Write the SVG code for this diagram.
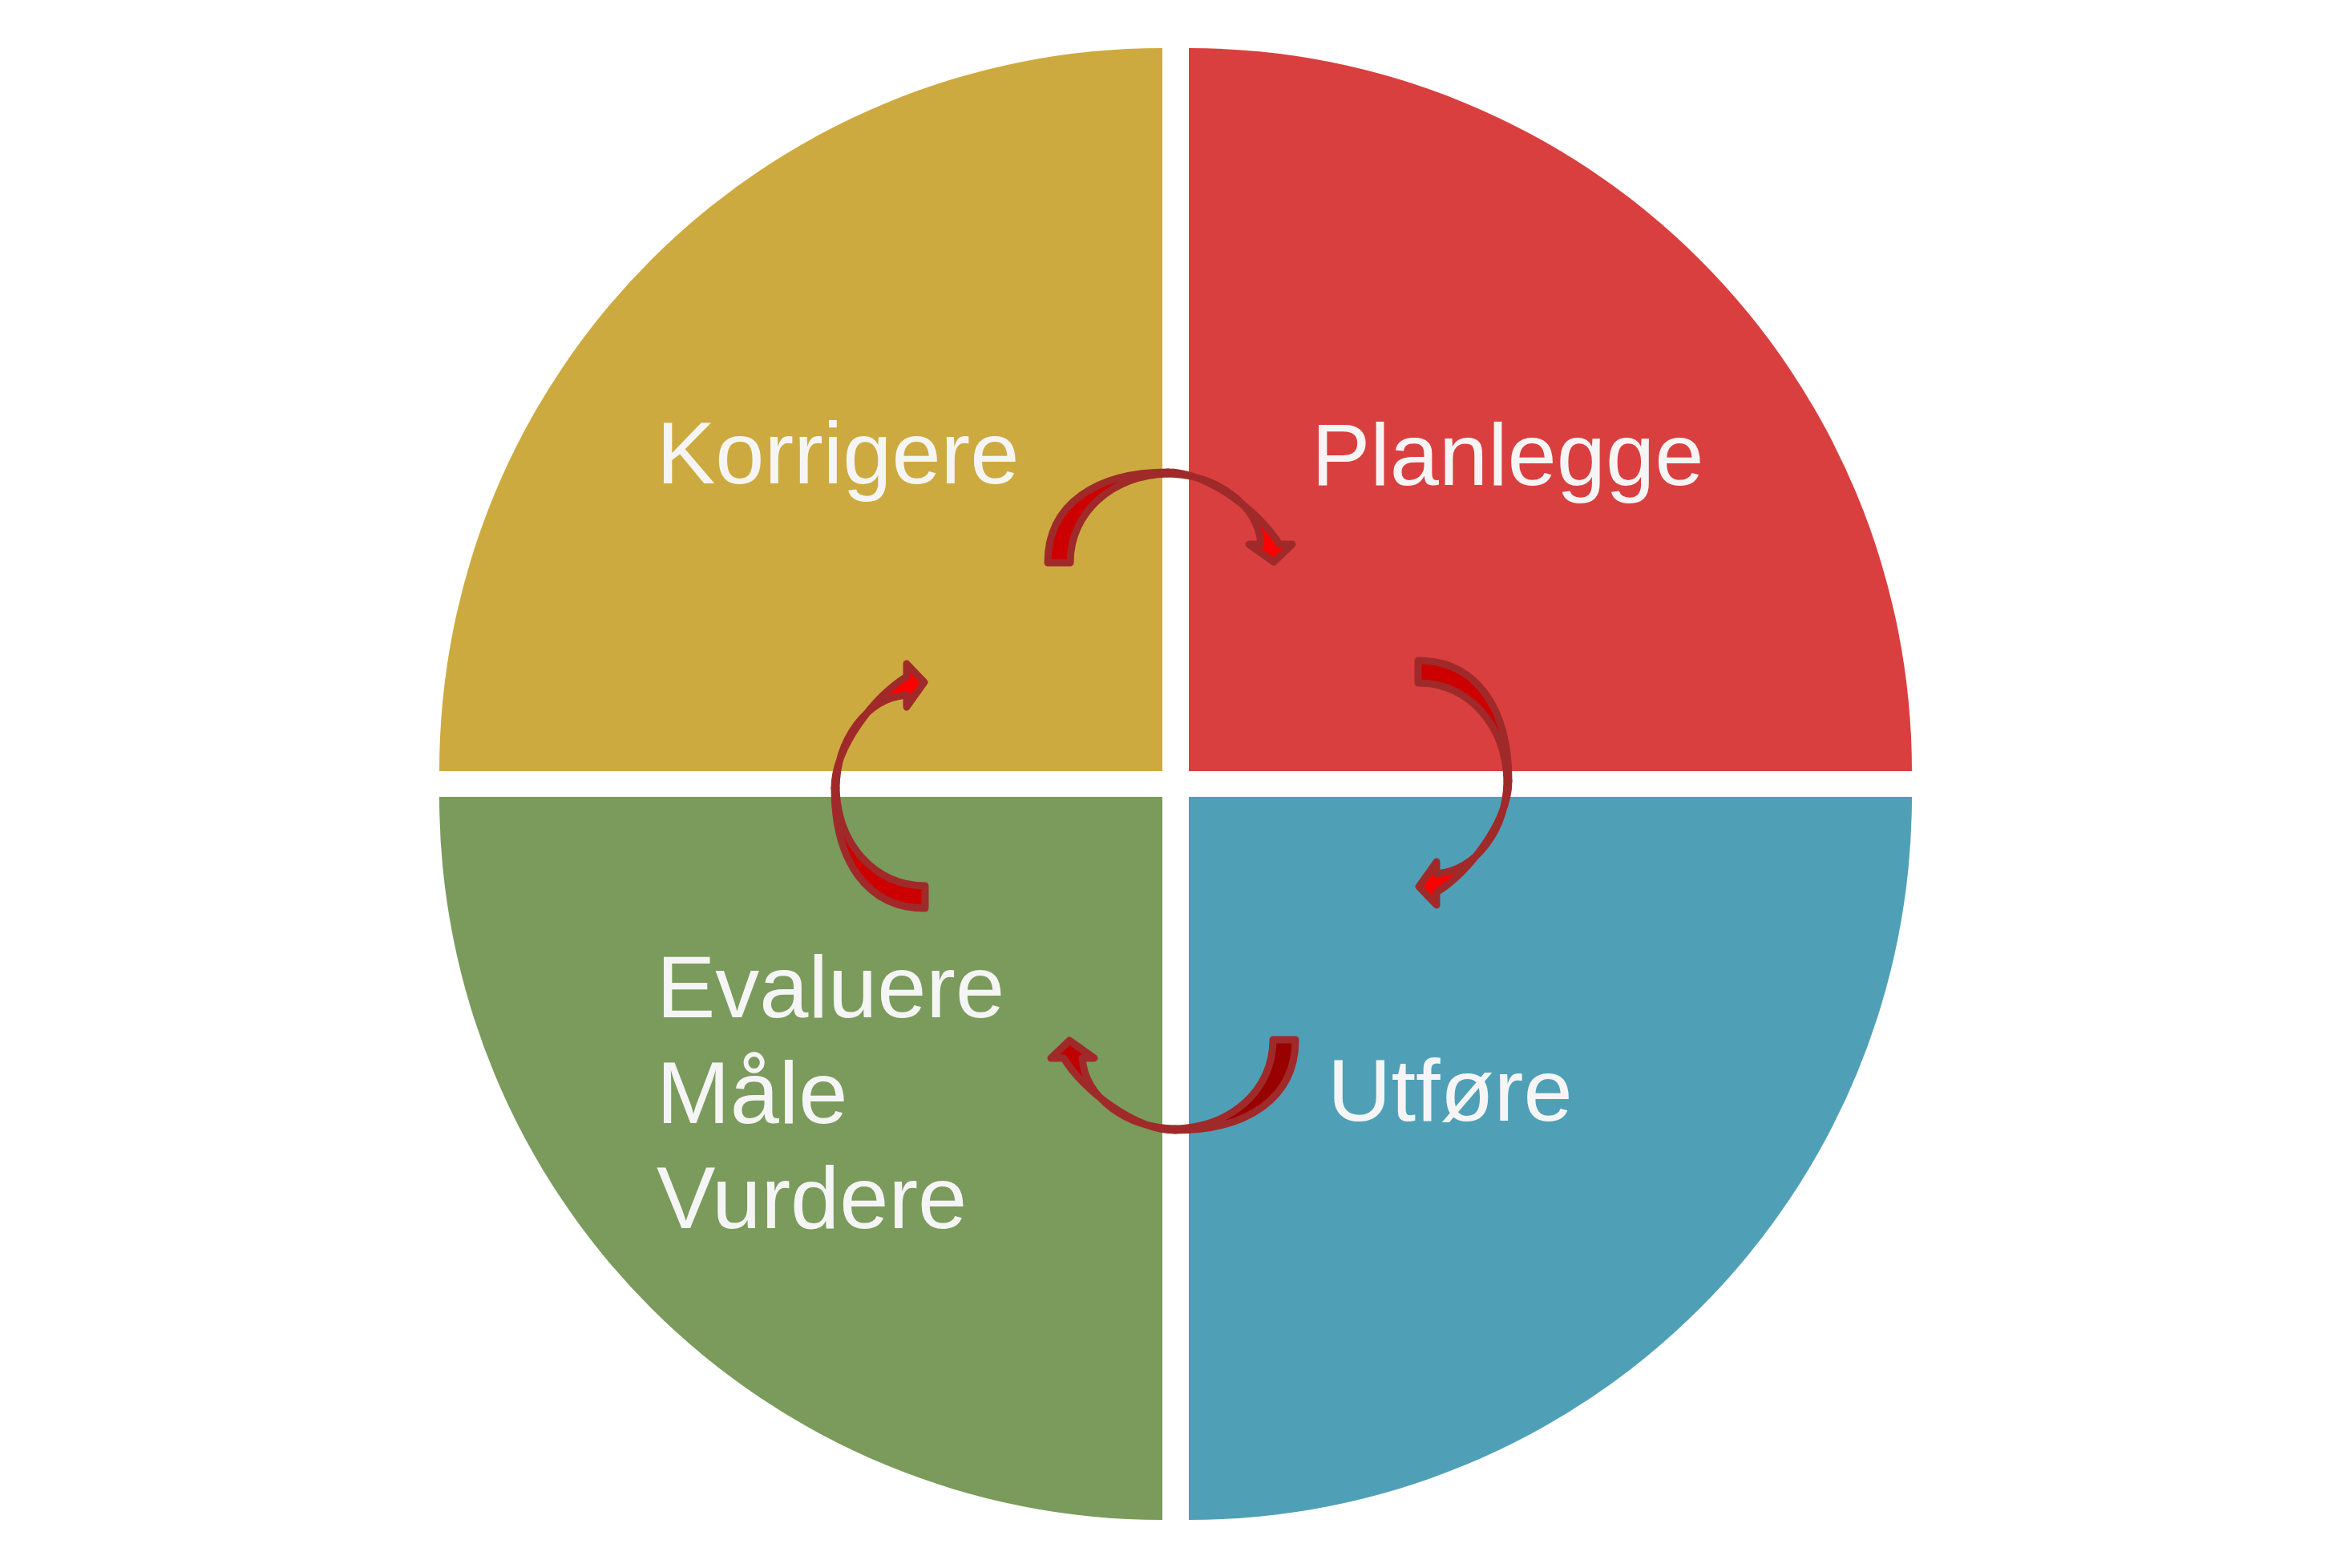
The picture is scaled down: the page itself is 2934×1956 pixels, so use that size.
<svg xmlns="http://www.w3.org/2000/svg" width="2934" height="1956" viewBox="0 0 2934 1956">
<style>
.lbl{font-family:"Liberation Sans",Arial,sans-serif;font-size:110px;fill:#F5F5F5}
.arw path{stroke:#A02A2A;stroke-width:9;stroke-linejoin:round}
.a .dk{fill:#CC0000}
.a .br{fill:#FF0000}
.b .dk{fill:#990000}
.b .br{fill:#C00000}
</style>
<rect width="2934" height="1956" fill="#FFFFFF"/>
<g id="korrigere">
<path d="M1450,962 L548,962 A902,902 0 0 1 1450,60 Z" fill="#CDAA3F"/>
<text class="lbl" x="819" y="603">Korrigere</text>
</g>
<g id="planlegge">
<path d="M1483,962 L1483,60 A902,902 0 0 1 2385,962 Z" fill="#DA3F3F"/>
<text class="lbl" x="1636" y="605">Planlegge</text>
</g>
<g id="utfore">
<path d="M1483,994 L2385,994 A902,902 0 0 1 1483,1896 Z" fill="#4FA0B7"/>
<text class="lbl" x="1656" y="1398">Utføre</text>
</g>
<g id="evaluere">
<path d="M1450,994 L1450,1896 A902,902 0 0 1 548,994 Z" fill="#7A9B5B"/>
<text class="lbl" x="819" y="1269">Evaluere</text>
<text class="lbl" x="819" y="1401">Måle</text>
<text class="lbl" x="819" y="1532">Vurdere</text>
</g>
<g id="connectors" class="arw">
<g id="arrow-korrigere-planlegge" class="a" transform="translate(1307,589)">
<path class="dk" d="M0,113 C0,40 60,0 150,0 L150,2 C80,4 28,50 28,113 Z"/>
<path class="br" d="M150,0 C200,0 265,50 289,90 L305,90 L282,112 L251,90 L266,90 C262,40 210,3 150,2 Z"/>
</g>
<g id="arrow-planlegge-utfore" class="a" transform="matrix(0,1,-1,0,1882,824)">
<path class="dk" d="M0,113 C0,40 60,0 150,0 L150,2 C80,4 28,50 28,113 Z"/>
<path class="br" d="M150,0 C200,0 265,50 289,90 L305,90 L282,112 L251,90 L266,90 C262,40 210,3 150,2 Z"/>
</g>
<g id="arrow-utfore-evaluere" class="b" transform="matrix(-1,0,0,-1,1616,1410)">
<path class="dk" d="M0,113 C0,40 60,0 150,0 L150,2 C80,4 28,50 28,113 Z"/>
<path class="br" d="M150,0 C200,0 265,50 289,90 L305,90 L282,112 L251,90 L266,90 C262,40 210,3 150,2 Z"/>
</g>
<g id="arrow-evaluere-korrigere" class="a" transform="matrix(0,-1,1,0,1041,1133)">
<path class="dk" d="M0,113 C0,40 60,0 150,0 L150,2 C80,4 28,50 28,113 Z"/>
<path class="br" d="M150,0 C200,0 265,50 289,90 L305,90 L282,112 L251,90 L266,90 C262,40 210,3 150,2 Z"/>
</g>
</g>
</svg>
